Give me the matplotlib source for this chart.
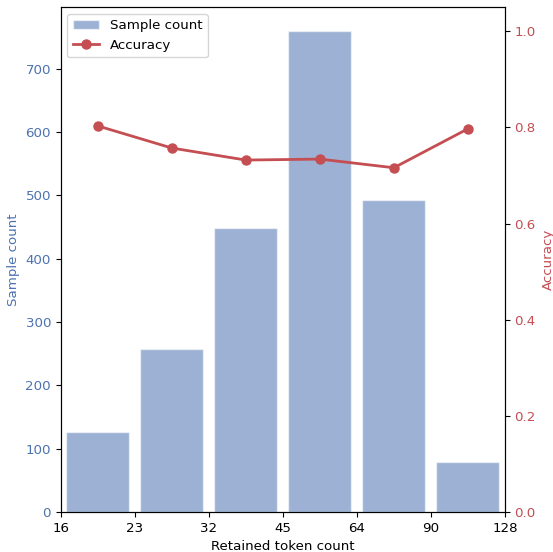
import numpy as np
import matplotlib.pyplot as plt

edges = ["16", "23", "32", "45", "64", "90", "128"]
counts = [126, 257, 448, 759, 492, 79]
accuracy = [0.803, 0.757, 0.732, 0.734, 0.716, 0.797]

blue = "#4C72B0"
red = "#C44E52"

plt.rcParams["font.size"] = 9.6

fig, ax1 = plt.subplots(figsize=(5.53, 5.52), dpi=100)
fig.subplots_adjust(left=0.110, right=0.913, bottom=0.0725, top=0.987)

x = np.arange(len(counts))
bars = ax1.bar(x, counts, width=0.85, color=blue, alpha=0.55,
               edgecolor="white", linewidth=1, label="Sample count")
ax1.set_xlim(-0.5, len(counts) - 0.5)
ax1.set_ylim(0, max(counts) * 1.05)
ax1.set_xticks(np.arange(len(edges)) - 0.5)
ax1.set_xticklabels(edges)
ax1.set_xlabel("Retained token count")
ax1.set_ylabel("Sample count", color=blue)
ax1.tick_params(axis="y", labelcolor=blue)

ax2 = ax1.twinx()
line, = ax2.plot(x, accuracy, color=red, marker="o", linewidth=2,
                 markersize=6.5, label="Accuracy")
ax2.set_ylim(0, 1.05)
ax2.set_ylabel("Accuracy", color=red)
ax2.tick_params(axis="y", labelcolor=red)

ax1.legend([bars, line], ["Sample count", "Accuracy"], loc="upper left")

plt.savefig("out.png")
